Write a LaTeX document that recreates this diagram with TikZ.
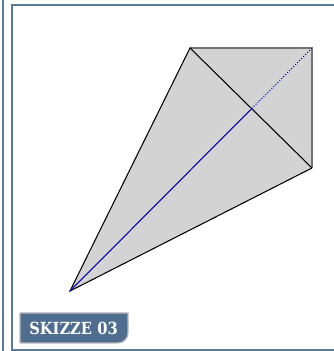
\documentclass[tikz,border=0pt]{standalone}
\usepackage{fontspec}
\newfontfamily\labelfont{DejaVu Serif}
\definecolor{framecol}{HTML}{5B7A99}
\definecolor{tagcol}{HTML}{4E6D8F}
\definecolor{sheetcol}{HTML}{D3D3D3}
\tikzset{
  edge/.style={semithick, black},
  rim/.style={thick, gray!90!black},
  tagbox/.style={fill=tagcol, draw=gray!55, line width=0.6pt},
  tagtext/.style={text=white, xscale=0.88, font=\labelfont\bfseries\fontsize{9.5}{11}\selectfont}
}
\begin{document}
\begin{tikzpicture}
  \useasboundingbox (0,0) rectangle (6.68,7.02);
  % frame
  \draw[framecol, line width=0.7pt] (0.06,0) -- (0.06,7.02);
  \draw[framecol, line width=0.7pt] (6.8,6.92) -- (0.24,6.92) -- (0.24,0.02) -- (6.8,0.02);

  \coordinate (A) at (1.40,1.20);
  \coordinate (B) at (3.80,6.06);
  \coordinate (C) at (6.24,6.06);
  \coordinate (D) at (6.24,3.66);
  \coordinate (M) at (intersection of A--C and B--D);

  \fill[sheetcol] (A) -- (B) -- (C) -- (D) -- cycle;
  \draw[rim] (B) -- (C) -- (D);
  \draw[edge] (D) -- (A) -- (B) -- (D);

  \draw[blue!70!black, semithick] (A) -- (M);
  \draw[blue, semithick, densely dotted] (M) -- (C);

  % label
  \path[tagbox] (0.40,0.16) -- (0.40,0.76) -- (2.56,0.76) -- (2.56,0.36)
     arc[start angle=0, end angle=-90, radius=0.2] -- cycle;
  \node[tagtext] (tag) at (1.47,0.45) {SKIZZE 03};
\end{tikzpicture}
\end{document}
